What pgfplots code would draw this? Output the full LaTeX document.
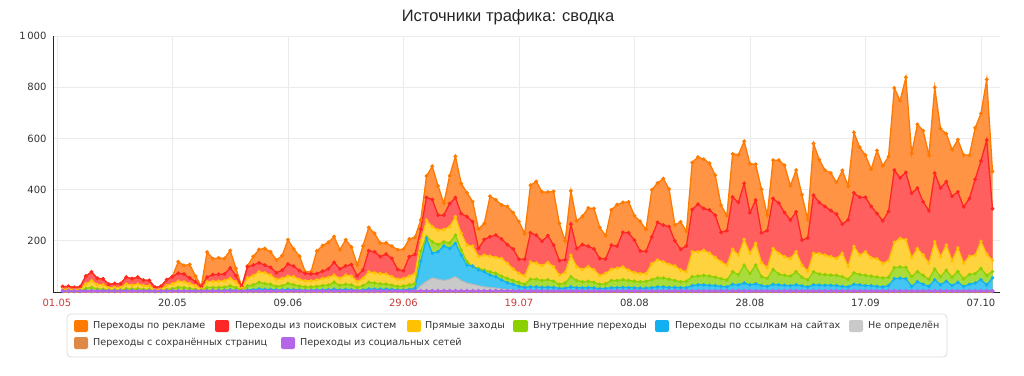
\documentclass[border=0pt]{standalone}
\usepackage{fontspec}
\setmainfont{DejaVu Sans}
\newfontfamily\titlefont{Liberation Sans}
\usepackage{pgfplots}
\usepackage{pgfplotstable}
\pgfplotsset{compat=1.18}

\definecolor{orL}{HTML}{FF7A00}
\definecolor{orF}{HTML}{FF9444}
\definecolor{redL}{HTML}{FF2626}
\definecolor{redF}{HTML}{FF5F5F}
\definecolor{yelL}{HTML}{FFC200}
\definecolor{yelF}{HTML}{FFD33E}
\definecolor{grnL}{HTML}{8CD000}
\definecolor{grnF}{HTML}{A8DC3C}
\definecolor{bluL}{HTML}{12B0F0}
\definecolor{bluF}{HTML}{44C6F4}
\definecolor{gryL}{HTML}{B8B8B8}
\definecolor{gryF}{HTML}{C9C9C9}
\definecolor{purL}{HTML}{B466E6}
\definecolor{brnL}{HTML}{DE8A46}
\definecolor{tickred}{HTML}{C83C3C}
\definecolor{txt}{HTML}{333333}

% cumulative tops of the stacked layers
% d: day index from 01.05; tot: total (Переходы по рекламе top), red: поисковые, yel: прямые,
% grn: внутренние, blu: ссылки на сайтах, gry: не определён, sav: сохранённые, soc: соцсети
\pgfplotstableread{
d tot red yel grn blu gry sav soc
0 21 21 10 5 2 0 0 4
1 22 22 11 5 2 0 0 4
2 18 18 9 4 2 0 0 4
3 20 20 10 5 2 0 0 4
4 62 62 32 14 4 0 0 4
5 78 78 44 18 5 0 0 4
6 53 53 29 12 4 0 0 4
7 51 51 28 11 4 0 0 4
8 30 30 16 7 3 0 0 4
9 33 33 18 8 3 0 0 4
10 32 32 17 7 3 0 0 4
11 58 58 31 13 5 0 0 4
12 52 52 27 11 6 0 0 4
13 58 58 31 13 4 0 0 4
14 46 46 25 10 3 0 0 4
15 45 45 24 10 3 0 0 4
16 18 18 9 4 2 0 0 4
17 22 22 11 5 2 0 0 4
18 48 48 25 10 3 0 0 4
19 60 60 32 13 4 0 0 4
20 118 73 42 18 5 0 0 4
21 104 70 40 17 5 0 0 4
22 107 55 33 14 4 0 0 4
23 62 40 25 10 3 0 0 4
24 22 22 12 6 2 0 0 4
25 156 58 40 18 5 0 0 4
26 130 68 42 18 6 0 0 4
27 133 69 42 18 6 0 0 4
28 131 70 44 19 6 0 0 4
29 162 94 53 24 8 0 0 4
30 92 64 40 17 6 0 0 4
31 21 21 15 7 3 0 0 4
32 102 99 55 24 8 0 0 4
33 139 105 64 28 9 0 0 4
34 166 114 79 38 12 0 0 4
35 170 105 75 33 10 0 0 4
36 157 96 66 30 10 0 0 4
37 125 75 49 22 8 0 0 4
38 142 85 53 24 8 0 0 4
39 204 109 62 34 10 0 0 4
40 168 101 60 28 9 0 0 4
41 140 83 49 23 8 0 0 4
42 79 72 44 20 7 0 0 4
43 79 70 44 20 7 0 0 4
44 160 72 47 22 8 0 0 4
45 181 81 53 25 8 0 0 4
46 194 90 57 27 9 0 0 4
47 216 116 66 38 11 0 0 4
48 165 90 53 26 8 0 0 4
49 204 102 66 30 10 0 0 4
50 176 107 62 28 9 0 0 4
51 106 63 40 18 6 0 0 4
52 180 86 53 25 8 0 0 4
53 252 161 79 38 12 0 0 4
54 229 157 75 35 11 0 0 4
55 191 138 72 32 11 0 0 4
56 192 148 70 31 11 0 0 4
57 179 131 60 27 10 0 0 4
58 165 88 50 22 8 0 0 4
59 167 83 52 23 8 0 0 4
60 207 138 62 28 10 0 0 4
61 214 147 72 32 14 2 0 4
62 281 245 200 160 120 25 0 4
63 453 369 281 216 209 42 0 4
64 491 361 255 196 151 55 0 4
65 414 300 242 185 157 50 0 4
66 347 300 244 196 180 45 0 4
67 454 345 255 192 170 50 0 4
68 530 369 294 222 190 60 0 4
69 424 306 229 164 144 45 0 4
70 388 294 183 118 105 35 0 4
71 353 274 179 99 101 30 0 4
72 246 170 138 92 86 25 0 4
73 268 205 144 86 79 20 0 4
74 374 216 140 79 66 18 0 4
75 360 222 135 73 60 15 0 4
76 340 207 131 62 47 12 0 4
77 334 185 112 53 36 10 0 4
78 310 168 90 45 30 8 0 4
79 275 128 73 38 22 5 0 4
80 228 128 63 30 18 3 0 4
81 417 231 117 50 20 2 0 4
82 432 222 113 50 20 2 0 4
83 391 198 103 45 18 2 0 4
84 390 220 115 48 19 2 0 4
85 393 183 99 42 18 2 0 4
86 268 123 66 30 14 1 0 4
87 200 126 76 35 15 1 0 4
88 395 265 144 60 20 2 0 4
89 278 170 99 45 17 2 0 4
90 296 185 88 40 16 2 0 4
91 328 179 99 42 17 2 0 4
92 326 168 87 38 16 2 0 4
93 252 131 64 30 13 1 0 4
94 220 129 73 32 14 1 0 4
95 321 183 89 45 17 2 0 4
96 341 179 93 45 17 2 0 4
97 350 233 98 48 18 2 0 4
98 352 231 85 45 17 2 0 4
99 298 202 76 42 16 2 0 4
100 276 160 72 40 15 2 0 4
101 244 159 72 42 15 2 0 4
102 399 215 110 48 17 2 0 4
103 426 272 125 55 20 2 0 4
104 443 261 118 55 20 2 0 4
105 402 255 108 50 18 2 0 4
106 262 200 102 45 18 2 0 4
107 274 167 86 40 17 2 0 4
108 237 180 79 42 17 2 0 4
109 506 322 157 60 25 2 0 4
110 527 343 157 62 28 2 0 4
111 519 326 163 65 28 2 0 4
112 503 320 152 62 26 2 0 4
113 456 300 135 58 25 2 0 4
114 339 233 118 52 22 2 0 4
115 298 240 105 47 20 2 0 4
116 540 371 167 79 30 2 0 4
117 536 350 144 68 28 2 0 4
118 589 424 205 105 35 2 0 4
119 501 310 151 72 28 2 0 4
120 499 359 190 105 32 2 0 4
121 401 231 115 60 25 2 0 4
122 300 240 95 53 22 2 0 4
123 515 365 170 88 30 2 0 4
124 515 347 151 70 28 2 0 4
125 495 310 138 65 26 2 0 4
126 415 281 131 62 25 2 0 4
127 476 313 157 79 28 2 0 4
128 380 203 105 58 24 2 0 4
129 284 211 82 47 20 2 0 4
130 580 378 151 79 28 2 0 4
131 517 350 150 70 27 2 0 4
132 476 334 144 68 26 2 0 4
133 465 318 138 66 26 2 0 4
134 428 304 131 65 25 2 0 4
135 475 265 151 60 22 2 0 4
136 414 282 100 50 20 2 0 4
137 623 387 178 75 30 2 0 4
138 566 370 144 68 28 2 0 4
139 534 370 157 65 25 2 0 4
140 480 334 134 62 25 2 0 4
141 553 307 130 58 22 2 0 4
142 493 278 112 55 20 2 0 4
143 529 315 122 58 25 2 0 4
144 797 476 194 95 52 2 0 4
145 747 446 209 98 54 2 0 4
146 838 467 204 96 52 2 0 4
147 541 386 134 60 22 2 0 4
148 655 406 170 80 40 2 0 4
149 630 352 144 65 30 2 0 4
150 534 317 113 50 22 2 0 4
151 799 464 196 90 48 2 0 4
152 638 406 138 60 28 2 0 4
153 618 431 183 85 42 2 0 4
154 556 374 122 58 25 2 0 4
155 595 391 172 80 38 2 0 4
156 536 333 112 52 22 2 0 4
157 534 365 140 68 30 2 0 4
158 641 440 144 72 35 2 0 4
159 697 512 198 92 48 2 0 4
160 830 594 148 65 28 2 0 4
161 471 325 123 80 55 2 0 4
}\data

\begin{document}
\begin{tikzpicture}
\path[use as bounding box] (0bp,0bp) rectangle (1024bp,-376bp);
\begin{axis}[
  at={(53bp,-292bp)}, anchor=south west,
  scale only axis, width=947bp, height=256bp,
  xmin=-1.68, xmax=162.3, ymin=0, ymax=1000,
  axis x line*=bottom, axis y line*=left,
  axis line style={draw=black!85, line width=0.9bp},
  xtick={-1,19,39,59,79,99,119,139,159},
  xticklabels={{\color{tickred}01.05},20.05,09.06,{\color{tickred}29.06},{\color{tickred}19.07},08.08,28.08,17.09,07.10},
  ytick={200,400,600,800,1000},
  yticklabels={200,400,600,800,1\,000},
  grid=major, grid style={draw=black!8, line width=0.7bp},
  major tick length=0pt,
  tick label style={font=\fontsize{10bp}{12bp}\selectfont, text=txt},
  xticklabel style={yshift=-3.5bp},
  yticklabel style={xshift=-3bp},
  clip=false,
]
\addplot[draw=none, fill=orF] table[x=d,y=tot]{\data} \closedcycle;
\addplot[color=orL, line width=1.3bp, mark=*, mark size=1.2bp] table[x=d,y=tot]{\data};
\addplot[draw=none, fill=redF] table[x=d,y=red]{\data} \closedcycle;
\addplot[color=redL, line width=1.3bp, mark=*, mark size=1.2bp] table[x=d,y=red]{\data};
\addplot[draw=none, fill=yelF] table[x=d,y=yel]{\data} \closedcycle;
\addplot[color=yelL, line width=1.2bp, mark=*, mark size=1.1bp] table[x=d,y=yel]{\data};
\addplot[draw=none, fill=grnF] table[x=d,y=grn]{\data} \closedcycle;
\addplot[color=grnL, line width=1.2bp, mark=*, mark size=1.1bp] table[x=d,y=grn]{\data};
\addplot[draw=none, fill=bluF] table[x=d,y=blu]{\data} \closedcycle;
\addplot[color=bluL, line width=1.2bp, mark=*, mark size=1.1bp] table[x=d,y=blu]{\data};
\addplot[draw=none, fill=gryF] table[x=d,y=gry]{\data} \closedcycle;
\addplot[color=gryL, line width=1bp] table[x=d,y=gry]{\data};
\addplot[color=brnL, line width=1bp] table[x=d,y=sav]{\data};
\addplot[color=purL, line width=1.1bp, mark=*, mark size=1.6bp] table[x=d,y=soc]{\data};
\end{axis}

% title
\node[font=\titlefont\fontsize{16.5bp}{19bp}\selectfont, text=black!85] at (508bp,-17bp) {Источники трафика: сводка};

% legend
\draw[rounded corners=4bp, draw=black!14, line width=0.8bp] (67bp,-314bp) rectangle (947bp,-357bp);
\def\legfont{\fontsize{9.6bp}{11.5bp}\selectfont}
\fill[color=orL, rounded corners=2bp] (74bp,-320bp) rectangle (88bp,-332bp);
\node[anchor=west, inner sep=0pt, font=\legfont, text=txt] at (93bp,-326bp) {Переходы по рекламе};
\fill[color=redL, rounded corners=2bp] (215bp,-320bp) rectangle (229bp,-332bp);
\node[anchor=west, inner sep=0pt, font=\legfont, text=txt] at (235bp,-326bp) {Переходы из поисковых систем};
\fill[color=yelL, rounded corners=2bp] (407bp,-320bp) rectangle (421bp,-332bp);
\node[anchor=west, inner sep=0pt, font=\legfont, text=txt] at (425bp,-326bp) {Прямые заходы};
\fill[color=grnL, rounded corners=2bp] (513bp,-320bp) rectangle (528bp,-332bp);
\node[anchor=west, inner sep=0pt, font=\legfont, text=txt] at (533bp,-326bp) {Внутренние переходы};
\fill[color=bluL, rounded corners=2bp] (655bp,-320bp) rectangle (669bp,-332bp);
\node[anchor=west, inner sep=0pt, font=\legfont, text=txt] at (675bp,-326bp) {Переходы по ссылкам на сайтах};
\fill[color=gryF, rounded corners=2bp] (849bp,-320bp) rectangle (863bp,-332bp);
\node[anchor=west, inner sep=0pt, font=\legfont, text=txt] at (868bp,-326bp) {Не определён};
\fill[color=brnL, rounded corners=2bp] (74bp,-337bp) rectangle (88bp,-349bp);
\node[anchor=west, inner sep=0pt, font=\legfont, text=txt] at (93bp,-343bp) {Переходы с сохранённых страниц};
\fill[color=purL, rounded corners=2bp] (281bp,-337bp) rectangle (295bp,-349bp);
\node[anchor=west, inner sep=0pt, font=\legfont, text=txt] at (300bp,-343bp) {Переходы из социальных сетей};
\end{tikzpicture}
\end{document}
